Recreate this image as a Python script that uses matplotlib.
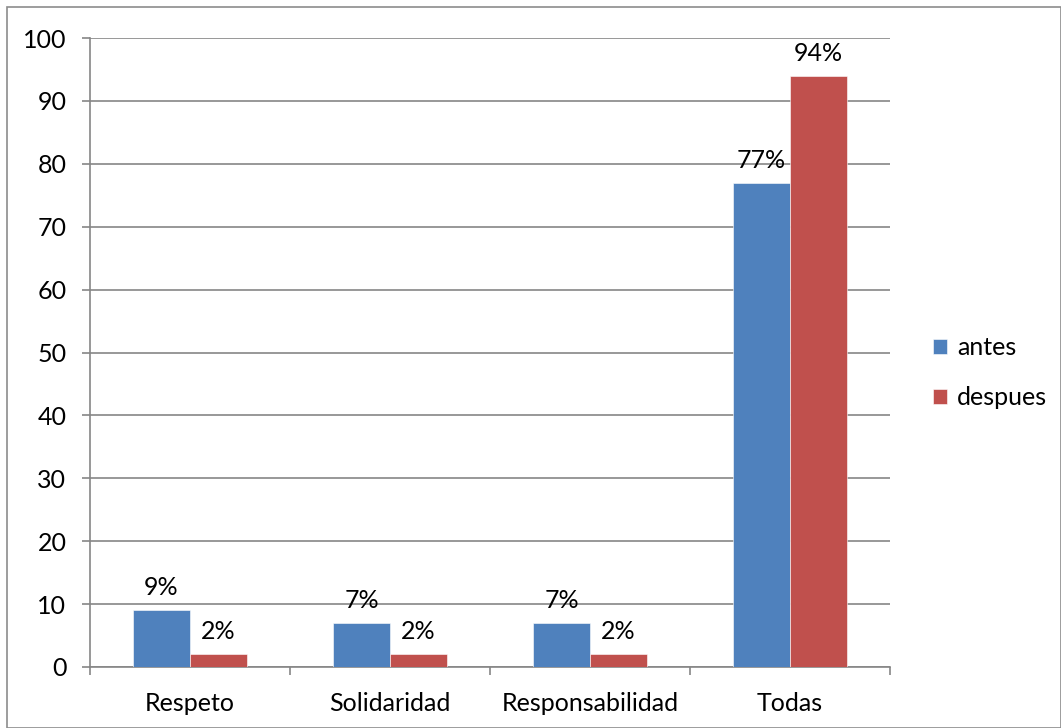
import numpy as np
import matplotlib.pyplot as plt
from matplotlib.patches import Rectangle

categorias = ['Respeto', 'Solidaridad', 'Responsabilidad', 'Todas']
antes = [9, 7, 7, 77]
despues = [2, 2, 2, 94]
series = ['antes', 'despues']
colores = ['#4F81BD', '#C0504D']

plt.rcParams['font.family'] = ['Lato', 'DejaVu Sans']

fig = plt.figure(figsize=(10.61, 7.28), dpi=100)
ax = fig.add_axes([90/1061, 1-667/728, 800/1061, 629/728])

# marco gris alrededor de todo el grafico
fig.patches.append(Rectangle((7/1061, 0), 1-7/1061-0.5/1061, 1-7/728,
                             transform=fig.transFigure, fill=False,
                             edgecolor='#8c8c8c', linewidth=1.2))

x = np.arange(len(categorias))
w = 0.285
for i, (vals, nombre) in enumerate(zip([antes, despues], series)):
    pos = x + (i - 0.5) * w
    ax.bar(pos, vals, width=w, color=colores[i], label=nombre,
           edgecolor='white', linewidth=0.4, zorder=3)
    for p, v in zip(pos, vals):
        ax.annotate(f'{v}%', (p, v), xytext=(0, 8), textcoords='offset points',
                    ha='center', va='bottom', fontsize=18)

ax.set_xlim(-0.5, len(categorias) - 0.5)
ax.set_ylim(0, 100)
ax.set_yticks(range(0, 101, 10))
ax.grid(axis='y', color='#868686', linewidth=1.2, zorder=0)
ax.set_axisbelow(True)

ax.set_xticks(x)
ax.set_xticklabels(categorias)
ax.set_xticks(np.arange(-0.5, len(categorias)), minor=True)
ax.tick_params(axis='x', which='major', length=0, labelsize=18, pad=18)
ax.tick_params(axis='x', which='minor', length=6, width=1.2, color='#868686', direction='out')
ax.tick_params(axis='y', length=6, width=1.2, color='#868686', labelsize=18, pad=11)

for s in ['top', 'right']:
    ax.spines[s].set_visible(False)
for s in ['left', 'bottom']:
    ax.spines[s].set_color('#868686')
    ax.spines[s].set_linewidth(1.2)

ax.legend(loc='center left', bbox_to_anchor=(1.026, 0.468), frameon=False,
          fontsize=18, handlelength=0.55, handleheight=0.55,
          handletextpad=0.4, labelspacing=1.1)

fig.savefig('out.png', dpi=100)
